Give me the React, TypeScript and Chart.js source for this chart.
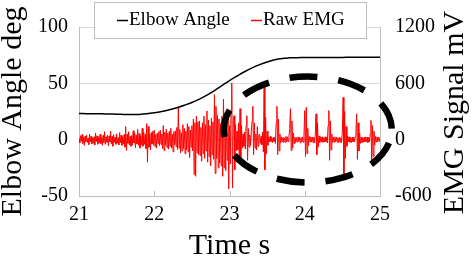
import React, { useEffect, useRef } from "react";
import { Chart, registerables } from "chart.js";

Chart.register(...registerables);

// ---- data ----
const timeStart = 21;
const emgStep = 0.01; // s between EMG samples
const angleStep = 0.1; // s between angle samples

const xTicks = [21, 22, 23, 24, 25];
const leftTicks = [-50, 0, 50, 100];
const rightTicks = [-600, 0, 600, 1200];

// Elbow angle (deg), every 0.1 s from 21.0 to 25.0
const elbowAngle = [
  23.2, 23.1, 23.0, 22.9, 22.8, 22.6, 22.4, 22.3, 22.4, 22.9,
  23.8, 25.0, 26.5, 28.3, 30.5, 33.0, 36.0, 39.5, 43.5, 48.0,
  52.5, 56.5, 60.3, 63.7, 66.6, 69.0, 70.9, 72.1, 72.6, 72.8,
  72.9, 72.9, 73.0, 73.0, 73.0, 73.0, 73.1, 73.1, 73.1, 73.1,
  73.1,
];

// Raw EMG (mV), every 0.01 s from 21.00 to 25.00
const rawEmg = [
  10, -35, 42, -18, 55, -40, 25, -60, 38, -22,
  48, -30, 15, -52, 60, -25, 35, -45, 20, -38,
  30, -55, 70, -20, 40, -48, 25, -35, 58, -42,
  22, -60, 45, -30, 85, -50, 30, -28, 50, -65,
  40, -25, 90, -45, 35, -70, 55, -30, 28, -50,
  62, -38, 20, -55, 75, -32, 48, -60, 30, -45,
  55, -80, 140, -115, 60, -40, 85, -55, 35, -70,
  45, -60, 95, -35, 70, -85, 50, -45, 110, -60,
  65, -90, 40, -55, 120, -70, 80, -50, 60, -95,
  170, -240, 140, -80, 60, -110, 75, -45, 90, -60,
  100, -75, 55, -90, 70, -40, 85, -65, 100, -50,
  60, -95, 150, -115, 80, -60, 110, -85, 70, -100,
  90, -70, 120, -90, 60, -130, 85, -55, 95, -75,
  130, -105, 345, -90, 110, -140, 75, -120, 160, -95,
  120, -150, 90, -110, 170, -130, 140, -190, 100, -80,
  150, -120, 220, -370, 180, -390, 250, -140, 190, -160,
  200, -170, 130, -230, 180, -150, 250, -200, 160, -120,
  305, -240, 210, -180, 150, -280, 230, -160, 190, -210,
  480, -360, 355, -200, 260, -300, 220, -250, 170, -280,
  250, -390, 430, -300, 200, -330, 280, -220, 320, -525,
  150, -260, 320, 605, -515, 200, 255, -320, 160, -120,
  90, -110, 180, -200, 330, -260, 150, -90, 60, -70,
  80, -100, 150, 255, -220, 120, -80, 50, -60, 90,
  200, 355, -160, 180, -90, 60, -110, 140, -70, 45,
  60, -40, 35, -55, 80, -130, 560, -320, 240, -150,
  90, -60, 30, -25, 35, -20, 28, -30, 22, -18,
  25, -40, 180, 355, -160, 220, -120, 60, -35, 30,
  -22, 25, -30, 20, -28, 35, -25, 30, -20, 28,
  120, 330, -115, 200, -90, 70, -40, 25, -30, 22,
  -25, 30, -20, 28, -35, 22, -25, 30, -28, 60,
  310, -180, 345, -150, 120, -60, 35, -25, 30, -22,
  28, -30, 25, -35, 60, 275, -160, 180, -80, 40,
  -30, 25, -22, 30, -28, 20, -25, 30, -20, 28,
  -35, 150, 310, -220, 200, -110, 60, -30, 25, -28,
  30, -22, 28, -25, 20, -30, 25, -28, 22, -30,
  90, 450, -390, 300, -200, 140, -70, 40, -25, 30,
  -28, 22, -30, 25, -22, 28, -25, 30, 80, 275,
  -210, 180, -120, 70, -40, 25, -30, 22, -28, 25,
  -22, 30, -25, 28, -30, 22, -25, 60, 205, -260,
  150, -180, 90, -60, 35, -25, 30, -22, 28, -20,
  25,
];

const seriesNames = ["Elbow Angle", "Raw EMG"];
const xTitle = "Time s";
const leftTitle = "Elbow Angle deg";
const rightTitle = "EMG Signal mV";

// ---- styles ----
const FONT = '"Liberation Serif", "Times New Roman", serif';
const GRID = "#d9d9d9";
const BORDER = "#bfbfbf";
const ANGLE_COLOR = "#000000";
const EMG_COLOR = "#ff0000";

const plainTick = (v: any) => String(v);

const decorations = {
  id: "decorations",
  afterDraw(chart: any) {
    const { ctx, chartArea, scales } = chart;
    const xs = scales.x;
    const ys = scales.y;
    ctx.save();

    // small inward tick marks on the time axis
    ctx.strokeStyle = BORDER;
    ctx.lineWidth = 1;
    for (const v of xTicks.slice(1, -1)) {
      const px = Math.round(xs.getPixelForValue(v)) + 0.5;
      ctx.beginPath();
      ctx.moveTo(px, chartArea.bottom);
      ctx.lineTo(px, chartArea.bottom - 5);
      ctx.stroke();
    }

    // dashed ellipse highlighting the periodic bursts
    const cT = 24.04, cV = 9, hT = 1.116, hV = 47;
    const cx = xs.getPixelForValue(cT);
    const cy = ys.getPixelForValue(cV);
    const rx = xs.getPixelForValue(cT + hT) - cx;
    const ry = cy - ys.getPixelForValue(cV + hV);
    ctx.strokeStyle = "#000";
    ctx.lineWidth = 6.5;
    ctx.setLineDash([28, 21]);
    ctx.lineDashOffset = 35;
    ctx.beginPath();
    ctx.ellipse(cx, cy, rx, ry, 0, 0, Math.PI * 2);
    ctx.stroke();
    ctx.setLineDash([]);

    // legend box
    ctx.fillStyle = "#fff";
    ctx.fillRect(94, 2, 272, 36);
    ctx.strokeStyle = BORDER;
    ctx.lineWidth = 1;
    ctx.strokeRect(94.5, 2.5, 272, 36);
    ctx.font = `19px ${FONT}`;
    ctx.textBaseline = "middle";
    ctx.textAlign = "left";
    const items = [
      { x: 117, color: ANGLE_COLOR, label: seriesNames[0] },
      { x: 251, color: EMG_COLOR, label: seriesNames[1] },
    ];
    for (const it of items) {
      ctx.strokeStyle = it.color;
      ctx.lineWidth = 1.5;
      ctx.beginPath();
      ctx.moveTo(it.x, 20.5);
      ctx.lineTo(it.x + 11, 20.5);
      ctx.stroke();
      ctx.fillStyle = "#000";
      ctx.fillText(it.label, it.x + 12, 20.5);
    }

    // right axis title (reads bottom-to-top)
    ctx.translate(455, (chartArea.top + chartArea.bottom) / 2 + 1);
    ctx.rotate(-Math.PI / 2);
    ctx.font = `30px ${FONT}`;
    ctx.textAlign = "center";
    ctx.textBaseline = "middle";
    ctx.fillStyle = "#000";
    ctx.fillText(rightTitle, 0, 0);
    ctx.restore();
  },
};

export default function App() {
  const ref = useRef<HTMLCanvasElement | null>(null);

  useEffect(() => {
    if (!ref.current) return;
    const anglePts = elbowAngle.map((v, i) => ({ x: timeStart + i * angleStep, y: v }));
    const emgPts = rawEmg.map((v, i) => ({ x: timeStart + i * emgStep, y: v }));

    const chart = new Chart(ref.current, {
      type: "line",
      data: {
        datasets: [
          {
            label: seriesNames[0],
            data: anglePts,
            borderColor: ANGLE_COLOR,
            borderWidth: 1.5,
            pointRadius: 0,
            tension: 0.4,
            yAxisID: "y",
          },
          {
            label: seriesNames[1],
            data: emgPts,
            borderColor: EMG_COLOR,
            borderWidth: 1,
            pointRadius: 0,
            tension: 0,
            yAxisID: "y1",
          },
        ],
      },
      options: {
        animation: false,
        responsive: false,
        events: [],
        layout: { padding: { top: 19, left: 0, right: 0, bottom: 0 } },
        plugins: { legend: { display: false }, tooltip: { enabled: false } },
        scales: {
          x: {
            type: "linear",
            min: xTicks[0],
            max: xTicks[xTicks.length - 1],
            afterBuildTicks: (s: any) => {
              s.ticks = xTicks.map((v) => ({ value: v }));
            },
            afterFit: (s: any) => {
              s.height = 63;
            },
            grid: { display: false, drawTicks: false },
            border: { display: true, color: BORDER },
            ticks: { color: "#000", font: { family: FONT, size: 20 }, padding: 7, callback: plainTick },
            title: {
              display: true,
              text: xTitle,
              color: "#000",
              font: { family: FONT, size: 30, lineHeight: 1 },
              padding: { top: 0, bottom: -2 },
            },
          },
          y: {
            type: "linear",
            position: "left",
            min: leftTicks[0],
            max: leftTicks[leftTicks.length - 1],
            afterBuildTicks: (s: any) => {
              s.ticks = leftTicks.map((v) => ({ value: v }));
            },
            afterFit: (s: any) => {
              s.width = 79;
            },
            grid: { color: GRID, drawTicks: false },
            border: { display: true, color: BORDER },
            ticks: { color: "#000", font: { family: FONT, size: 20 }, padding: 11, callback: plainTick },
            title: {
              display: true,
              text: leftTitle,
              color: "#000",
              font: { family: FONT, size: 30, lineHeight: 1 },
              padding: { top: -2, bottom: 0 },
            },
          },
          y1: {
            type: "linear",
            position: "right",
            min: rightTicks[0],
            max: rightTicks[rightTicks.length - 1],
            afterBuildTicks: (s: any) => {
              s.ticks = rightTicks.map((v) => ({ value: v }));
            },
            afterFit: (s: any) => {
              s.width = 92;
            },
            grid: { drawOnChartArea: false, drawTicks: false },
            border: { display: true, color: BORDER },
            ticks: { color: "#000", font: { family: FONT, size: 20 }, padding: 15, callback: plainTick },
          },
        },
      },
      plugins: [decorations],
    } as any);

    return () => chart.destroy();
  }, []);

  return (
    <div style={{ position: "absolute", left: 0, top: 0, width: 472, height: 259, background: "#fff" }}>
      <canvas ref={ref} width={472} height={259} style={{ width: 472, height: 259, display: "block" }} />
    </div>
  );
}
